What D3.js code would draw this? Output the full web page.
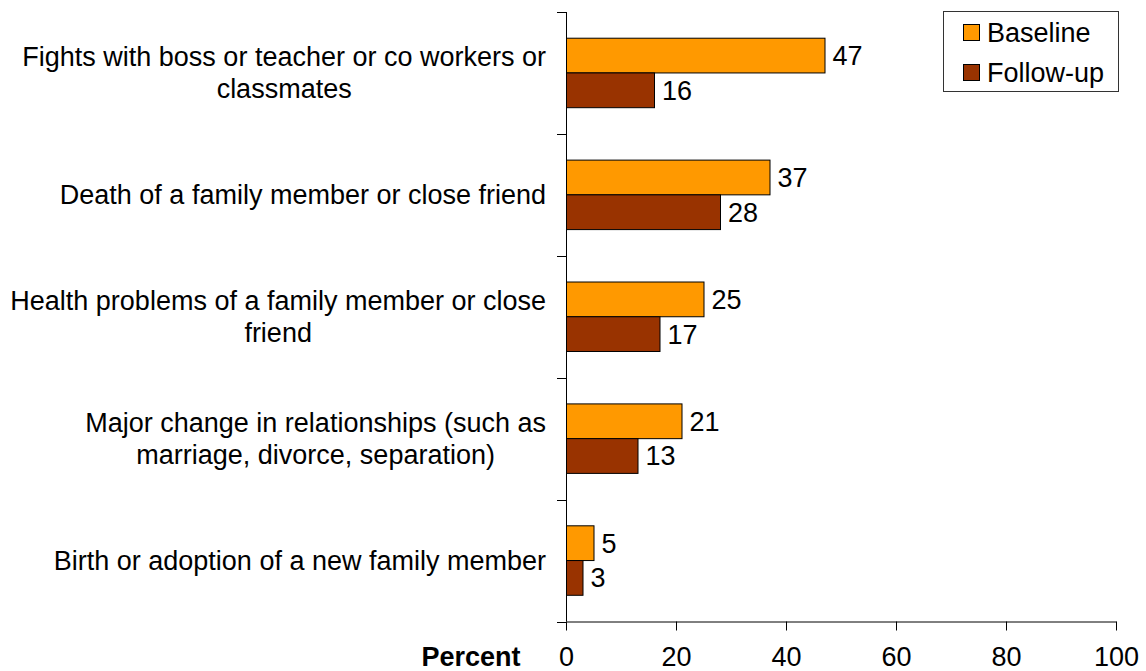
<!DOCTYPE html>
<html>
<head>
<meta charset="utf-8">
<script src="https://cdn.jsdelivr.net/npm/d3@7"></script>
<style>
  html, body { margin: 0; padding: 0; background: #fff; }
  svg { display: block; font-family: "Liberation Sans", Arial, sans-serif; }
</style>
</head>
<body>
<svg id="chart" width="1146" height="671"></svg>
<script>
// Stressful life events, percent reporting at each wave
const categories = [
  ["Fights with boss or teacher or co workers or", "classmates"],
  ["Death of a family member or close friend"],
  ["Health problems of a family member or close", "friend"],
  ["Major change in relationships (such as", "marriage, divorce, separation)"],
  ["Birth or adoption of a new family member"]
];
const seriesNames = ["Baseline", "Follow-up"];
const baseline = [47, 37, 25, 21, 5];
const followUp = [16, 28, 17, 13, 3];
const xTicks = [0, 20, 40, 60, 80, 100];
const colors = ["#FF9900", "#993300"];

const FS = 27;
const svg = d3.select("#chart");
const keys = categories.map((c, i) => "c" + i);
const rows = keys.map((k, i) => ({ key: k, lines: categories[i], values: [baseline[i], followUp[i]] }));

const x = d3.scaleLinear().domain([0, 100]).range([566, 1116]);
const y = d3.scaleBand().domain(keys).range([12, 621.5]).paddingInner(0.43).paddingOuter(0.215);
const ySub = d3.scaleBand().domain(seriesNames).range([0, y.bandwidth()]);

// value axis along the bottom
const xAxis = d3.axisBottom(x).tickValues(xTicks).tickSize(9).tickPadding(16).tickSizeOuter(0);
const gx = svg.append("g").attr("transform", "translate(0,621.5)").call(xAxis);
gx.select(".domain").attr("stroke", "#000");
gx.selectAll(".tick line").attr("stroke", "#000");
gx.selectAll(".tick text").attr("font-size", FS).attr("fill", "#000")
  .attr("font-family", "Liberation Sans, Arial, sans-serif");

svg.append("text").attr("x", 471).attr("y", 665.5).attr("text-anchor", "middle")
  .attr("font-size", FS).attr("font-weight", "bold").text("Percent");

// category axis with ticks between groups
const step = y.step();
const boundaries = d3.range(keys.length + 1).map(i => y.range()[0] + i * step);
const gy = svg.append("g");
gy.append("line").attr("x1", x(0) + 0.5).attr("x2", x(0) + 0.5)
  .attr("y1", y.range()[0]).attr("y2", y.range()[1]).attr("stroke", "#000");
gy.selectAll("line.tk").data(boundaries).join("line").attr("class", "tk")
  .attr("x1", x(0) - 9).attr("x2", x(0))
  .attr("y1", d => Math.round(d) + 0.5).attr("y2", d => Math.round(d) + 0.5).attr("stroke", "#000");

// category labels: lines centred within a block right-aligned to the axis
const labelRight = 546;
const lineH = 32;
rows.forEach(r => {
  const cy = y(r.key) + y.bandwidth() / 2;
  const g = svg.append("g");
  const t = g.selectAll("text").data(r.lines).join("text")
    .attr("font-size", FS).attr("fill", "#000").attr("text-anchor", "middle")
    .attr("dy", "0.35em")
    .attr("y", (d, i) => cy + (i - (r.lines.length - 1) / 2) * lineH)
    .text(d => d);
  const w = d3.max(t.nodes(), n => n.getComputedTextLength());
  t.attr("x", labelRight - w / 2);
});

// bars
const groups = svg.selectAll("g.grp").data(rows).join("g").attr("class", "grp")
  .attr("transform", d => `translate(0,${y(d.key)})`);
groups.selectAll("rect").data(d => d.values.map((v, i) => ({ v, s: seriesNames[i], i })))
  .join("rect")
  .attr("x", x(0) + 0.5)
  .attr("y", d => ySub(d.s))
  .attr("width", d => x(d.v) - x(0))
  .attr("height", ySub.bandwidth())
  .attr("fill", d => colors[d.i])
  .attr("stroke", "#000").attr("stroke-width", 1);
groups.selectAll("text.val").data(d => d.values.map((v, i) => ({ v, s: seriesNames[i] })))
  .join("text").attr("class", "val")
  .attr("x", d => x(d.v) + 8)
  .attr("y", d => ySub(d.s) + ySub.bandwidth() / 2)
  .attr("dy", "0.35em")
  .attr("font-size", FS).attr("fill", "#000")
  .text(d => d.v);

// legend
const lg = svg.append("g");
lg.append("rect").attr("x", 943.5).attr("y", 11.5).attr("width", 175).attr("height", 80)
  .attr("fill", "#fff").attr("stroke", "#333");
seriesNames.forEach((s, i) => {
  const ly = 24 + i * 40;
  lg.append("rect").attr("x", 963.5).attr("y", ly + 0.5).attr("width", 16).attr("height", 16)
    .attr("fill", colors[i]).attr("stroke", "#000");
  lg.append("text").attr("x", 987).attr("y", ly + 9).attr("dy", "0.35em")
    .attr("font-size", FS).attr("fill", "#000").text(s);
});
</script>
</body>
</html>
